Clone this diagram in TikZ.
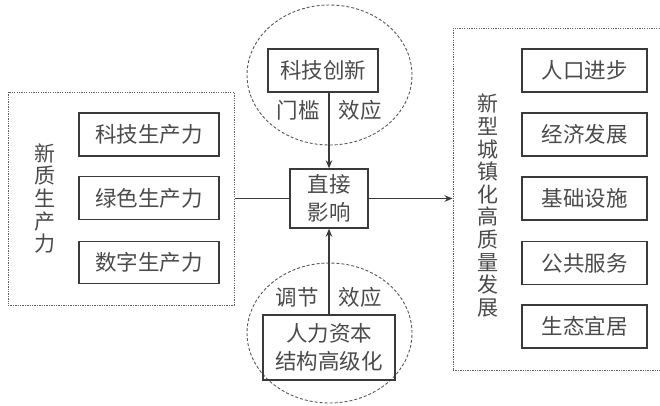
\documentclass[tikz,border=0pt]{standalone}
\usepackage{fontspec}
\setmainfont{Noto Sans CJK SC}
\usetikzlibrary{arrows.meta,shapes.geometric}
\definecolor{ln}{HTML}{3A3A3A}
\definecolor{tx}{HTML}{4A4A4A}
\begin{document}
\begin{tikzpicture}[x=1pt,y=-1pt,
  box/.style={draw=ln, line width=1.4pt, inner sep=0pt, text=tx, align=center,
    font=\fontsize{21.5}{28}\selectfont},
  group/.style={draw=ln!80, line width=1pt, dash pattern=on 1.3pt off 1.1pt, inner sep=0pt},
  oval/.style={ellipse, draw=ln!85, line width=0.9pt, dash pattern=on 3pt off 2pt, inner sep=0pt},
  lbl/.style={text=tx, font=\fontsize{21.5}{24}\selectfont, inner sep=0pt},
  vtext/.style={text=tx, align=center, font=\fontsize{21}{22.6}\selectfont, inner sep=0pt},
  arr/.style={draw=ln, line width=1.2pt, -{Stealth[length=8pt,width=6.5pt]}},
  con/.style={draw=ln, line width=1.2pt}]
\useasboundingbox (0,0) rectangle (660,405);

% groups
\node[group, minimum width=226pt, minimum height=213pt] (L) at (121,198.5) {};
\node[group, minimum width=212pt, minimum height=342pt] (R) at (559,199) {};

% ellipses
\node[oval, minimum width=165pt, minimum height=140pt] (E1) at (329.5,75) {};
\node[oval, minimum width=165pt, minimum height=140pt] (E2) at (329.5,333) {};

% left boxes
\node[box, minimum width=140pt, minimum height=43pt] (l1) at (149,134.5) {科技生产力};
\node[box, minimum width=140pt, minimum height=43pt] (l2) at (149,198) {绿色生产力};
\node[box, minimum width=140pt, minimum height=42pt] (l3) at (149,262.5) {数字生产力};
\node[vtext] (lt) at (45,198.5) {新\\质\\生\\产\\力};

% right boxes
\node[box, minimum width=125pt, minimum height=43pt] (r1) at (584.5,70.5) {人口进步};
\node[box, minimum width=125pt, minimum height=43pt] (r2) at (584.5,134.5) {经济发展};
\node[box, minimum width=125pt, minimum height=43pt] (r3) at (584.5,198.5) {基础设施};
\node[box, minimum width=125pt, minimum height=43pt] (r4) at (584.5,263) {公共服务};
\node[box, minimum width=125pt, minimum height=43pt] (r5) at (584.5,326.5) {生态宜居};
\node[vtext] (rt) at (488,205.5) {新\\型\\城\\镇\\化\\高\\质\\量\\发\\展};

% center
\node[box, minimum width=78pt, minimum height=59pt] (C) at (329,198.5) {直接\\影响};
\node[box, minimum width=110pt, minimum height=43pt] (T) at (323,70.5) {科技创新};
\node[box, minimum width=132pt, minimum height=65pt] (B) at (329,347.5) {人力资本\\结构高级化};

\node[lbl] (t1) at (298,110) {门槛};
\node[lbl] (t2) at (360,110) {效应};
\node[lbl] (b1) at (297,297) {调节};
\node[lbl] (b2) at (360,297) {效应};

% connectors
\draw[con] (L.east |- C.west) -- (C.west);
\draw[arr] (C.east) -- (R.west |- C.east);
\draw[arr] (C.north |- T.south) -- (C.north);
\draw[arr] (B.north) -- (C.south);
\end{tikzpicture}
\end{document}
